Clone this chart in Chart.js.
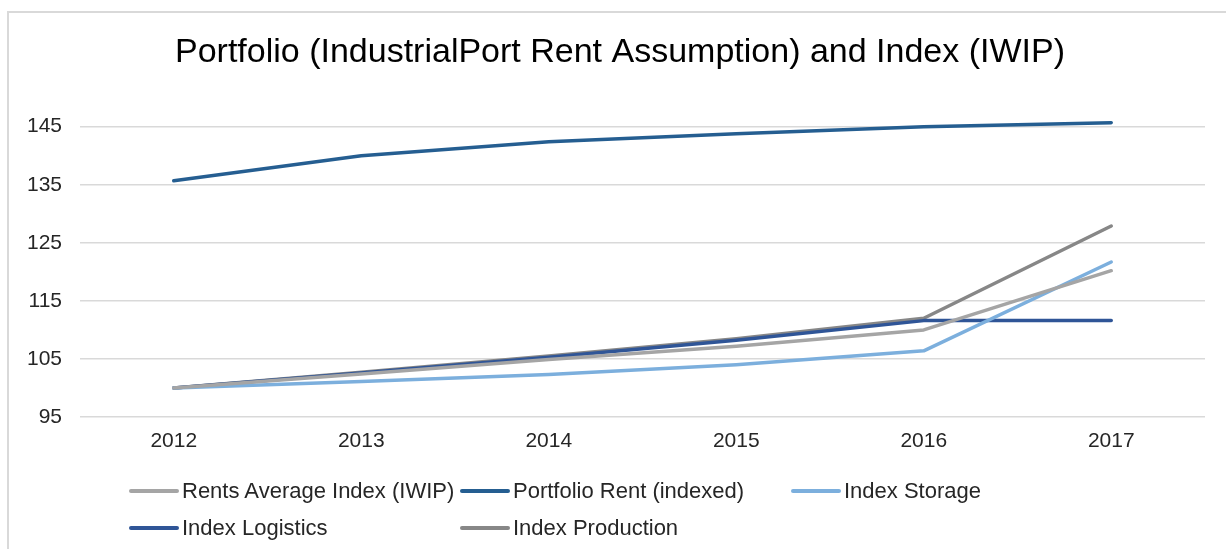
<!DOCTYPE html>
<html>
<head>
<meta charset="utf-8">
<script src="https://cdn.jsdelivr.net/npm/chart.js@4.4.1/dist/chart.umd.min.js"></script>
<style>
    html, body { margin: 0; padding: 0; background: #fff; }
    #wrapper { position: relative; width: 1226px; height: 549px; overflow: hidden; }
    #frame {
        position: absolute; left: 7px; top: 11px; width: 1300px; height: 600px;
        border-left: 2px solid #d9d9d9; border-top: 2px solid #d9d9d9;
    }
    #lineChart { position: absolute; left: 0; top: 0; }
    #legend {
        position: absolute; left: 129px; top: 472px;
        display: grid; grid-template-columns: 331px 331px 331px; grid-auto-rows: 37.5px;
        font-family: "Liberation Sans", Arial, sans-serif; font-size: 22px; color: #262626;
    }
    .legend-item { display: flex; align-items: center; white-space: nowrap; }
    .legend-line { width: 50px; height: 4px; border-radius: 2px; margin-right: 3px; }
</style>
</head>
<body>
<div id="wrapper">
    <div id="frame"></div>
    <canvas id="lineChart" width="1226" height="549"></canvas>
    <div id="legend"></div>
</div>
<script>
// Data
const years = ['2012', '2013', '2014', '2015', '2016', '2017'];
const rentsAverage = [100, 102.4, 104.9, 107.2, 110.0, 120.2];
const portfolioRent = [135.7, 140.0, 142.4, 143.8, 145.0, 145.7];
const indexStorage = [100, 101.1, 102.3, 104.0, 106.4, 121.7];
const indexLogistics = [100, 102.6, 105.3, 108.2, 111.6, 111.6];
const indexProduction = [100, 102.7, 105.5, 108.5, 112.0, 127.9];

const seriesNames = ['Rents Average Index (IWIP)', 'Portfolio Rent (indexed)', 'Index Storage', 'Index Logistics', 'Index Production'];
const seriesValues = [rentsAverage, portfolioRent, indexStorage, indexLogistics, indexProduction];
const seriesColors = ['#a5a5a5', '#255e91', '#7cafdd', '#2f5597', '#878787'];

const fontFamily = '"Liberation Sans", Arial, sans-serif';
const txtColor = '#262626';

const datasets = seriesNames.map((name, index) => ({
    label: name,
    data: seriesValues[index],
    borderColor: seriesColors[index],
    backgroundColor: seriesColors[index],
    borderWidth: 3.5,
    borderCapStyle: 'round',
    borderJoinStyle: 'round',
    pointRadius: 0,
    tension: 0,
    fill: false,
    clip: false
}));

// nudge the title a bit to the right (centre ~620px like the original)
const titleOffset = {
    id: 'titleOffset',
    afterLayout(chart) {
        if (chart.titleBlock) chart.titleBlock.left += 26;
    }
};

const ctx = document.getElementById('lineChart').getContext('2d');
const lineChart = new Chart(ctx, {
    type: 'line',
    data: { labels: years, datasets: datasets },
    plugins: [titleOffset],
    options: {
        responsive: false,
        animation: false,
        layout: { padding: { left: 9, right: 21, top: 0, bottom: 0 } },
        scales: {
            x: {
                offset: true,
                grid: { display: false },
                border: { display: false },
                ticks: { color: txtColor, font: { family: fontFamily, size: 21 }, padding: 3.7, maxRotation: 0 },
                afterFit: (scale) => { scale.height = 132; }
            },
            y: {
                min: 95,
                max: 145,
                grid: { color: '#d9d9d9', lineWidth: 1.5, drawTicks: false },
                border: { display: false },
                ticks: { stepSize: 10, color: txtColor, font: { family: fontFamily, size: 21 }, padding: 18 },
                afterFit: (scale) => { scale.width = 71; }
            }
        },
        plugins: {
            title: {
                display: true,
                text: 'Portfolio (IndustrialPort Rent Assumption) and Index (IWIP)',
                color: '#000',
                font: { family: fontFamily, size: 34, weight: 'normal' },
                padding: { top: 32, bottom: 53.9 }
            },
            legend: { display: false },
            tooltip: { enabled: false }
        }
    }
});

// Legend
const legendBox = document.getElementById('legend');
lineChart.data.datasets.forEach((ds) => {
    const item = document.createElement('div');
    item.className = 'legend-item';
    const line = document.createElement('span');
    line.className = 'legend-line';
    line.style.background = ds.borderColor;
    const label = document.createElement('span');
    label.textContent = ds.label;
    item.appendChild(line);
    item.appendChild(label);
    legendBox.appendChild(item);
});
</script>
</body>
</html>
